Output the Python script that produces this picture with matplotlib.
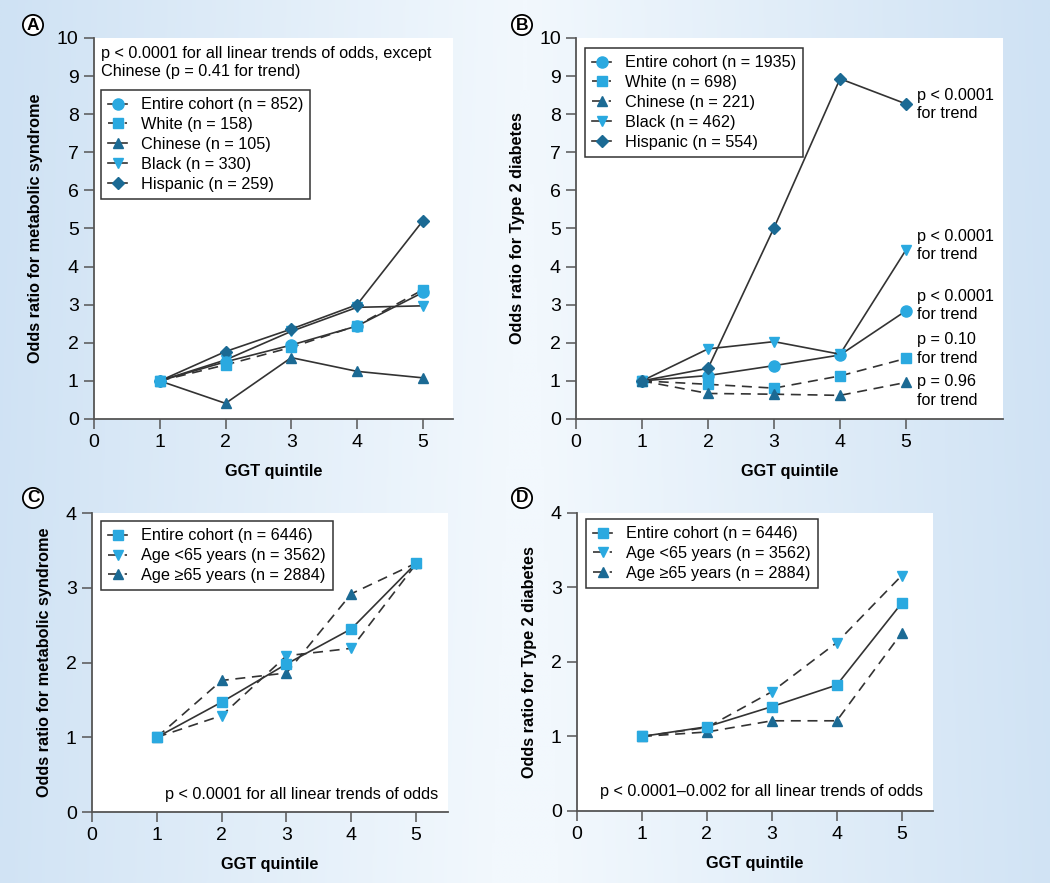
import numpy as np
import matplotlib.pyplot as plt
from matplotlib.colors import LinearSegmentedColormap

plt.rcParams['font.family'] = ['Liberation Sans', 'DejaVu Sans']

LIGHT = '#2aa9e0'
DARK = '#1b6a94'
LINE = '#333333'
FS = 11.7

quintiles = [1, 2, 3, 4, 5]

# Panel A: metabolic syndrome by race/ethnicity
a_labels = ['Entire cohort (n = 852)', 'White (n = 158)', 'Chinese (n = 105)',
            'Black (n = 330)', 'Hispanic (n = 259)']
a_entire = [1.0, 1.50, 1.94, 2.44, 3.32]
a_white = [1.0, 1.42, 1.88, 2.45, 3.39]
a_chinese = [1.0, 0.41, 1.61, 1.25, 1.08]
a_black = [1.0, 1.55, 2.30, 2.93, 2.97]
a_hispanic = [1.0, 1.77, 2.36, 3.00, 5.20]

# Panel B: type 2 diabetes by race/ethnicity
b_labels = ['Entire cohort (n = 1935)', 'White (n = 698)', 'Chinese (n = 221)',
            'Black (n = 462)', 'Hispanic (n = 554)']
b_entire = [1.0, 1.14, 1.40, 1.68, 2.84]
b_white = [1.0, 0.91, 0.81, 1.13, 1.59]
b_chinese = [1.0, 0.67, 0.65, 0.62, 0.96]
b_black = [1.0, 1.84, 2.03, 1.70, 4.44]
b_hispanic = [1.0, 1.33, 5.02, 8.93, 8.27]
b_notes = ['p < 0.0001\nfor trend', 'p < 0.0001\nfor trend', 'p < 0.0001\nfor trend',
           'p = 0.10\nfor trend', 'p = 0.96\nfor trend']
b_note_y = [8.25, 4.55, 2.98, 1.83, 0.73]

# Panels C and D: by age group
age_labels = ['Entire cohort (n = 6446)', 'Age <65 years (n = 3562)',
              'Age \u226565 years (n = 2884)']
c_entire = [1.0, 1.47, 1.98, 2.45, 3.33]
c_young = [1.0, 1.29, 2.09, 2.19, 3.32]
c_old = [1.0, 1.76, 1.86, 2.92, 3.33]
d_entire = [1.0, 1.13, 1.40, 1.69, 2.79]
d_young = [1.0, 1.12, 1.60, 2.26, 3.16]
d_old = [1.0, 1.06, 1.21, 1.21, 2.39]

fig = plt.figure(figsize=(10.5, 8.83), dpi=100)

# light blue gradient background
bg = fig.add_axes([0, 0, 1, 1], zorder=-10)
xs = np.linspace(0, 1, 300)
ys = np.linspace(0, 1, 300)
X, Y = np.meshgrid(xs, ys)
grad = np.clip(1 - np.abs(X - 0.5) * 1.6 + 0.05 * Y, 0, 1)
cmap = LinearSegmentedColormap.from_list('bg', ['#cfe2f4', '#f2f8fd'])
bg.imshow(grad, cmap=cmap, aspect='auto', extent=[0, 1, 0, 1], origin='upper')
bg.axis('off')


def style_axes(ax, ymax, xmax, ylabel):
    ax.set_facecolor('white')
    for s in ['top', 'right']:
        ax.spines[s].set_visible(False)
    for s in ['left', 'bottom']:
        ax.spines[s].set_color('#555555')
        ax.spines[s].set_linewidth(1.3)
    ax.set_xlim(0, xmax)
    ax.set_ylim(0, ymax)
    ax.set_xticks(range(0, 6))
    ax.set_yticks(range(0, ymax + 1))
    ax.tick_params(direction='out', length=7, width=1.1, color='#555555',
                   labelsize=14, pad=4)
    ax.set_xlabel('GGT quintile', fontsize=FS, fontweight='bold', labelpad=9)
    ax.set_ylabel(ylabel, fontsize=FS, fontweight='bold', labelpad=10)


def series(ax, y, marker, color, ls, label, ms=7):
    ax.plot(quintiles, y, ls=ls, color=LINE, lw=1.2, marker=marker, ms=ms,
            mfc=color, mec=color, label=label, dashes=(6, 4) if ls == '--' else (None, None),
            clip_on=False)


def legend(ax, handles, labels, x, y):
    leg = ax.legend(handles, labels, loc='upper left', bbox_to_anchor=(x, y),
                    borderaxespad=0, fontsize=FS, handlelength=1.15, handletextpad=0.85,
                    labelspacing=0.3, fancybox=False, framealpha=1,
                    edgecolor='#333333', borderpad=0.45)
    leg.get_frame().set_linewidth(1.1)


def panel_letter(x, y, letter):
    fig.text(x, y, letter, fontsize=12.5, fontweight='bold', ha='center', va='center',
             bbox=dict(boxstyle='circle,pad=0.15', fc='white', ec='black', lw=1.3))


# A
ax = fig.add_axes([0.0895, 0.5255, 0.342, 0.4315])
style_axes(ax, 10, 5.46, 'Odds ratio for metabolic syndrome')
series(ax, a_chinese, '^', DARK, '-', a_labels[2])
series(ax, a_black, 'v', LIGHT, '-', a_labels[3])
series(ax, a_hispanic, 'D', DARK, '-', a_labels[4], ms=6)
series(ax, a_white, 's', LIGHT, '--', a_labels[1])
series(ax, a_entire, 'o', LIGHT, '-', a_labels[0], ms=8)
h, l = ax.get_legend_handles_labels()
order = [4, 3, 0, 1, 2]
legend(ax, [h[i] for i in order], [l[i] for i in order], 0.0195, 0.8635)
ax.text(0.0195, 0.978, 'p < 0.0001 for all linear trends of odds, except\nChinese (p = 0.41 for trend)',
        transform=ax.transAxes, fontsize=FS, va='top', ha='left', linespacing=1.25)

# B
ax = fig.add_axes([0.5486, 0.5255, 0.4067, 0.4315])
style_axes(ax, 10, 6.47, 'Odds ratio for Type 2 diabetes')
series(ax, b_entire, 'o', LIGHT, '-', b_labels[0], ms=8)
series(ax, b_white, 's', LIGHT, '--', b_labels[1])
series(ax, b_chinese, '^', DARK, '--', b_labels[2])
series(ax, b_black, 'v', LIGHT, '-', b_labels[3])
series(ax, b_hispanic, 'D', DARK, '-', b_labels[4], ms=6)
h, l = ax.get_legend_handles_labels()
legend(ax, h, l, 0.021, 0.974)
for note, yv in zip(b_notes, b_note_y):
    ax.text(5.17, yv, note, fontsize=FS, va='center', ha='left', linespacing=1.3)

# C
ax = fig.add_axes([0.0876, 0.0804, 0.339, 0.3386])
style_axes(ax, 4, 5.49, 'Odds ratio for metabolic syndrome')
series(ax, c_young, 'v', LIGHT, '--', age_labels[1])
series(ax, c_old, '^', DARK, '--', age_labels[2])
series(ax, c_entire, 's', LIGHT, '-', age_labels[0])
h, l = ax.get_legend_handles_labels()
legend(ax, [h[2], h[0], h[1]], [l[2], l[0], l[1]], 0.025, 0.973)
ax.text(0.972, 0.06, 'p < 0.0001 for all linear trends of odds', transform=ax.transAxes,
        fontsize=FS, ha='right', va='center')

# D
ax = fig.add_axes([0.5495, 0.0816, 0.339, 0.3375])
style_axes(ax, 4, 5.48, 'Odds ratio for Type 2 diabetes')
series(ax, d_young, 'v', LIGHT, '--', age_labels[1])
series(ax, d_old, '^', DARK, '--', age_labels[2])
series(ax, d_entire, 's', LIGHT, '-', age_labels[0])
h, l = ax.get_legend_handles_labels()
legend(ax, [h[2], h[0], h[1]], [l[2], l[0], l[1]], 0.025, 0.98)
ax.text(0.972, 0.064, 'p < 0.0001\u20130.002 for all linear trends of odds',
        transform=ax.transAxes, fontsize=FS, ha='right', va='center')

panel_letter(33 / 1050, 1 - 25 / 883, 'A')
panel_letter(522 / 1050, 1 - 25 / 883, 'B')
panel_letter(33 / 1050, 1 - 498 / 883, 'C')
panel_letter(522 / 1050, 1 - 498 / 883, 'D')

fig.savefig('out.png', dpi=100)
